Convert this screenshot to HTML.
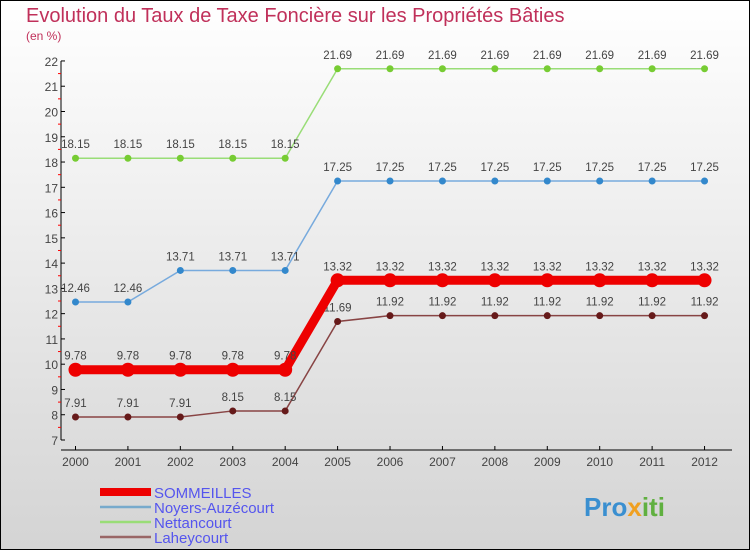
<!DOCTYPE html>
<html><head><meta charset="utf-8"><style>
body{margin:0}
svg text{font-family:"Liberation Sans","DejaVu Sans",sans-serif}
</style></head><body>
<svg width="750" height="550" viewBox="0 0 750 550">
<defs><linearGradient id="bg" x1="0" y1="0" x2="0" y2="1"><stop offset="0" stop-color="#ffffff"/><stop offset="1" stop-color="#d4d4d4"/></linearGradient></defs>
<rect x="0.5" y="0.5" width="749" height="549" fill="url(#bg)" stroke="#000"/>
<text x="26" y="22" font-size="20" fill="#c0305a">Evolution du Taux de Taxe Foncière sur les Propriétés Bâties</text>
<text x="26" y="40" font-size="12" fill="#c0305a">(en %)</text>
<g id="axes"></g>
<g id="series"></g>
<g id="legend"></g>
<text x="584" y="516" font-size="26" font-weight="bold" fill="#3a8fd0">Pro<tspan fill="#f0a020">x</tspan><tspan fill="#60b040">iti</tspan></text>
</svg>
<script>
const years=["2000","2001","2002","2003","2004","2005","2006","2007","2008","2009","2010","2011","2012"];
const yTicks=[7,8,9,10,11,12,13,14,15,16,17,18,19,20,21,22];
const sommeilles=[9.78,9.78,9.78,9.78,9.78,13.32,13.32,13.32,13.32,13.32,13.32,13.32,13.32];
const noyers=[12.46,12.46,13.71,13.71,13.71,17.25,17.25,17.25,17.25,17.25,17.25,17.25,17.25];
const nettancourt=[18.15,18.15,18.15,18.15,18.15,21.69,21.69,21.69,21.69,21.69,21.69,21.69,21.69];
const laheycourt=[7.91,7.91,7.91,8.15,8.15,11.69,11.92,11.92,11.92,11.92,11.92,11.92,11.92];
const NS="http://www.w3.org/2000/svg";
const xS=i=>75.5+i*52.42;
const yS=v=>440-(v-7)*25.27;
function mk(t,a,p){const e=document.createElementNS(NS,t);for(const k in a)e.setAttribute(k,a[k]);p.appendChild(e);return e;}
const ax=document.getElementById('axes');
const yl=mk('line',{x1:61,y1:yS(22),x2:61,y2:yS(7),stroke:'#000'},ax);


yTicks.forEach(v=>{
 mk('line',{x1:61,x2:65,y1:yS(v),y2:yS(v),stroke:'#000'},ax);
 if(v<22) mk('line',{x1:58,x2:61,y1:yS(v+0.5),y2:yS(v+0.5),stroke:'#f00'},ax);
 const t=mk('text',{x:58,y:yS(v)+5,'text-anchor':'end','font-size':12,fill:'#444'},ax);t.textContent=v;
 
 
});
const xl=mk('line',{x1:61,y1:450,x2:732,y2:450,stroke:'#000'},ax);


years.forEach((y,i)=>{
 mk('line',{x1:xS(i),x2:xS(i),y1:446,y2:450,stroke:'#000'},ax);
 const t=mk('text',{x:xS(i),y:466,'text-anchor':'middle','font-size':12,fill:'#444'},ax);t.textContent=y;
 
 
});
const sg=document.getElementById('series');
function draw(vals,color,w,r,dot,name){
 const g=mk('g',{},sg);
 
 
 mk('polyline',{points:vals.map((v,i)=>xS(i)+','+yS(v)).join(' '),fill:'none',stroke:color,'stroke-width':w},g);
 vals.forEach((v,i)=>{
  const c=mk('circle',{cx:xS(i),cy:yS(v),r:r,fill:dot},g);
  
  
  const t=mk('text',{x:xS(i),y:yS(v)-10,'text-anchor':'middle','font-size':11.5,fill:'#444'},g);
  t.textContent=String(v);
  
  
 });
}
draw(nettancourt,'#99dd77',1.5,3.5,'#77cc33','series-nettancourt');
draw(noyers,'#77aadd',1.5,3.5,'#3388cc','series-noyers-auzecourt');
draw(laheycourt,'#884444',1.5,3.5,'#661a1a','series-laheycourt');
draw(sommeilles,'#ee0000',9,7,'#ee0000','series-sommeilles');
const lg=document.getElementById('legend');
const items=[["SOMMEILLES","#ee0000",8],["Noyers-Auzécourt","#77aacc",2.5],["Nettancourt","#99dd77",2.5],["Laheycourt","#996666",2.5]];
items.forEach((it,i)=>{
 const y=492+i*15;
 const g=mk('g',{},lg);
 
 
 mk('line',{x1:100,x2:151,y1:y,y2:y,stroke:it[1],'stroke-width':it[2]},g);
 const t=mk('text',{x:154,y:y+6,'font-size':15,fill:'#5555ee'},g);t.textContent=it[0];
});
</script>
</body></html>
